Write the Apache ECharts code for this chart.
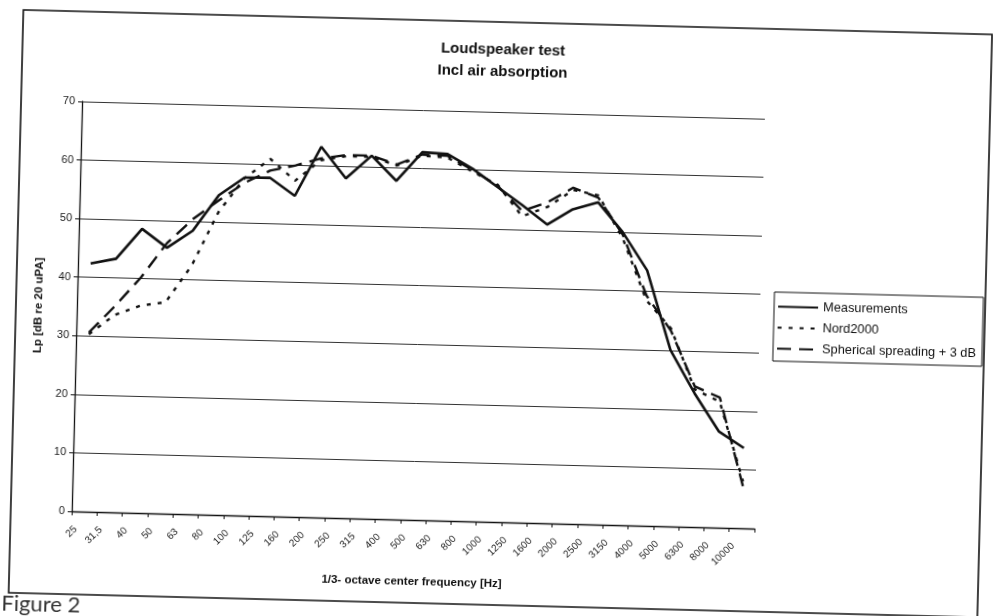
<!DOCTYPE html>
<html lang="en">
<head>
    <meta charset="UTF-8">
    <title>Loudspeaker test</title>
    <script src="https://cdn.jsdelivr.net/npm/echarts@6/dist/echarts.min.js"></script>
    <style>
        html, body { margin: 0; padding: 0; background: #fff; overflow: hidden; width: 993px; height: 616px; }
        /* the scanned page is a little skewed, so the chart is turned a bit;
           it is 20px bigger on every side so the turned canvas still fills the window */
        #container {
            position: absolute; left: -20px; top: -20px;
            width: 1033px; height: 656px;
            transform: rotate(1.45deg); transform-origin: 50% 50%;
        }
    </style>
</head>
<body>
<div id="container"></div>
<script>
    // 1/3-octave bands, as printed on the axis
    var freqLabels = ['25', '31,5', '40', '50', '63', '80', '100', '125', '160', '200', '250', '315', '400',
        '500', '630', '800', '1000', '1250', '1600', '2000', '2500', '3150', '4000', '5000', '6300', '8000', '10000'];

    // Lp in dB re 20 uPa
    var measurements = [42.4, 43.3, 48.5, 45.4, 48.4, 54.6, 57.7, 57.8, 54.8, 63.3, 58.0, 62.0, 57.8,
        62.8, 62.6, 60.2, 57.2, 54.2, 51.0, 53.7, 55.0, 50.0, 43.6, 30.1, 22.8, 16.4, 13.7];
    var nord2000 = [30.3, 33.7, 35.4, 36.1, 42.5, 51.7, 57.6, 61.0, 57.4, 61.0, 61.8, 61.8, 60.4,
        62.2, 62.0, 59.7, 57.6, 52.3, 54.0, 57.0, 56.2, 49.0, 38.5, 33.8, 23.5, 21.5, 8.0];
    var spherical = [30.6, 35.2, 40.2, 46.2, 50.4, 53.7, 56.8, 59.0, 60.0, 61.3, 62.0, 62.0, 60.6,
        62.4, 62.3, 60.0, 57.4, 53.2, 54.8, 57.4, 55.8, 49.6, 39.3, 33.4, 24.0, 22.2, 7.2];

    var yTicks = { min: 0, max: 70, step: 10 };

    var narrow = "'Liberation Sans Narrow', 'Liberation Sans', Arial, sans-serif";
    var plain = "'Liberation Sans', Arial, sans-serif";
    var pad = 20; // extra border of the container

    var myChart = echarts.init(document.getElementById('container'), null, { renderer: 'canvas' });

    var option = {
        animation: false,
        backgroundColor: '#fff',
        title: {
            text: 'Loudspeaker test\nIncl air absorption',
            left: 'center',
            top: 34 + pad,
            textStyle: { fontFamily: plain, fontSize: 15, fontWeight: 'bold', color: '#111', lineHeight: 22 }
        },
        grid: { left: 77 + pad, right: 233 + pad, top: 112 + pad, bottom: 94 + pad },
        legend: {
            orient: 'vertical',
            left: 774 + pad,
            top: 285 + pad,
            itemWidth: 40,
            itemHeight: 12,
            itemGap: 8,
            padding: [8, 6, 6, 3],
            borderColor: '#111',
            borderWidth: 1,
            backgroundColor: '#fff',
            itemStyle: { opacity: 0 },
            textStyle: { fontFamily: plain, fontSize: 12.8, color: '#111' },
            data: ['Measurements', 'Nord2000', 'Spherical spreading + 3 dB']
        },
        xAxis: {
            type: 'category',
            data: freqLabels,
            boundaryGap: true,
            name: '1/3- octave center frequency [Hz]',
            nameLocation: 'middle',
            nameGap: 56,
            nameTextStyle: { fontFamily: plain, fontSize: 11.5, fontWeight: 'bold', color: '#111' },
            axisLine: { lineStyle: { color: '#111', width: 1.3 } },
            axisTick: { show: true, length: 4, lineStyle: { color: '#111' } },
            axisLabel: { interval: 0, rotate: 45, margin: 8, padding: [0, 12, 0, 0],
                fontSize: 10, color: '#222', fontFamily: narrow },
            splitLine: { show: false }
        },
        yAxis: {
            type: 'value',
            min: yTicks.min,
            max: yTicks.max,
            interval: yTicks.step,
            name: 'Lp [dB re 20 uPA]',
            nameLocation: 'middle',
            nameGap: 32,
            nameTextStyle: { fontFamily: plain, fontSize: 11.5, fontWeight: 'bold', color: '#111' },
            axisLine: { show: true, lineStyle: { color: '#111', width: 1.3 } },
            axisTick: { show: true, length: 4, lineStyle: { color: '#111' } },
            axisLabel: { fontSize: 11, color: '#222', margin: 7, fontFamily: plain },
            splitLine: { show: true, lineStyle: { color: '#333', width: 1 } }
        },
        series: [{
            name: 'Measurements',
            type: 'line',
            data: measurements,
            symbol: 'none',
            lineStyle: { color: '#111', width: 2.6, type: 'solid' },
            itemStyle: { color: '#111' },
            z: 3
        }, {
            name: 'Nord2000',
            type: 'line',
            data: nord2000,
            symbol: 'none',
            lineStyle: { color: '#111', width: 2.4, type: [4, 7] },
            itemStyle: { color: '#111' },
            z: 2
        }, {
            name: 'Spherical spreading + 3 dB',
            type: 'line',
            data: spherical,
            symbol: 'none',
            lineStyle: { color: '#111', width: 2.4, type: [14, 8] },
            itemStyle: { color: '#111' },
            z: 2
        }],
        graphic: [{
            // chart area border
            type: 'rect',
            shape: { x: 16 + pad, y: 22 + pad, width: 969, height: 583 },
            style: { fill: 'none', stroke: '#111', lineWidth: 1.6 },
            silent: true
        }, {
            type: 'text',
            left: 9 + pad,
            top: 605 + pad,
            style: { text: 'Figure 2', fontFamily: "Lato, 'Open Sans', sans-serif", fontSize: 22, fill: '#333' },
            silent: true
        }]
    };

    myChart.setOption(option);
</script>
</body>
</html>
